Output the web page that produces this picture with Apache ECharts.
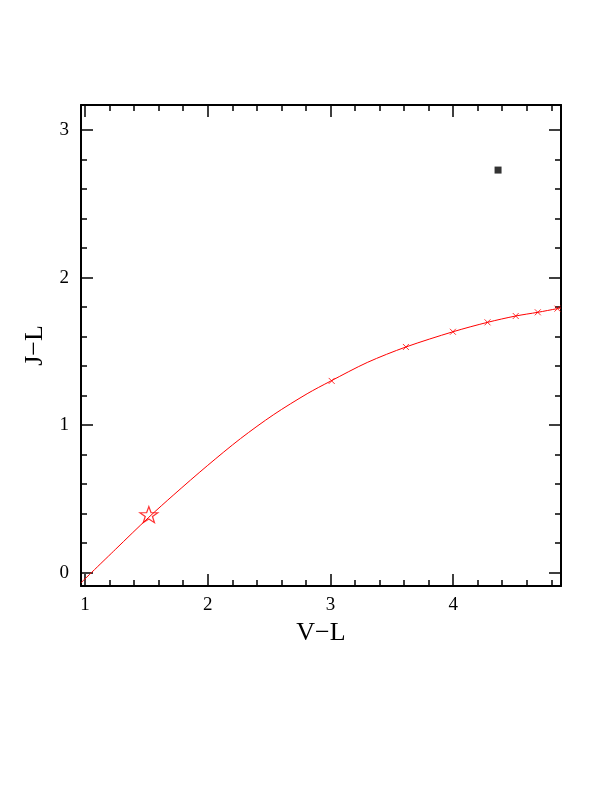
<!DOCTYPE html>
<html>
<head>
<meta charset="utf-8">
<script src="https://cdn.jsdelivr.net/npm/echarts@6/dist/echarts.min.js"></script>
<style>
html,body{margin:0;padding:0;background:#fff;}
#chart{width:612px;height:792px;}
</style>
</head>
<body>
<div id="chart"></div>
<script>
// ---- data ----
var curveX = [0.967, 1.25, 1.52, 1.724, 1.996, 2.267, 2.538, 2.81, 3.0, 3.3, 3.615, 3.998, 4.28, 4.51, 4.69, 4.85, 4.879];
var curveY = [-0.068, 0.16, 0.376, 0.529, 0.725, 0.909, 1.072, 1.213, 1.298, 1.425, 1.53, 1.633, 1.697, 1.74, 1.765, 1.79, 1.794];
var modelX = [3.01, 3.615, 3.998, 4.28, 4.51, 4.69, 4.85];
var modelY = [1.30, 1.53, 1.633, 1.697, 1.74, 1.765, 1.79];
var starX = [1.52];
var starY = [0.394];
var squareX = [4.366];
var squareY = [2.729];
var xMajor = [1, 2, 3, 4];
var xMinor = [1.2, 1.4, 1.6, 1.8, 2.2, 2.4, 2.6, 2.8, 3.2, 3.4, 3.6, 3.8, 4.2, 4.4, 4.6, 4.8];
var yMajor = [0, 1, 2, 3];
var yMinor = [0.2, 0.4, 0.6, 0.8, 1.2, 1.4, 1.6, 1.8, 2.2, 2.4, 2.6, 2.8];
var xLabels = ['1', '2', '3', '4'];
var yLabels = ['0', '1', '2', '3'];
var xTitle = 'V\u2212L';
var yTitle = 'J\u2212L';

var X_MIN = 0.967, X_MAX = 4.879, Y_MIN = -0.09, Y_MAX = 3.17;
var FONT = 'Liberation Serif';

function zip(a, b) { return a.map(function (v, i) { return [v, b[i]]; }); }

function makeAxis(kind, pos, ticks, len, withLabels, withLine) {
  var isX = kind === 'x';
  var ax = {
    type: 'value',
    position: pos,
    min: isX ? X_MIN : Y_MIN,
    max: isX ? X_MAX : Y_MAX,
    splitLine: { show: false },
    axisLine: { show: withLine, onZero: false, lineStyle: { color: '#000', width: 2 } },
    axisTick: { show: true, inside: true, length: len, customValues: ticks, lineStyle: { color: '#000', width: 1.5 } },
    axisLabel: { show: false }
  };
  if (withLabels) {
    var labs = isX ? xLabels : yLabels;
    var vals = isX ? xMajor : yMajor;
    ax.axisLabel = {
      show: true,
      customValues: vals,
      margin: isX ? 10 : 12,
      fontFamily: FONT,
      fontSize: 19,
      color: '#000',
      formatter: function (v) {
        var i = vals.indexOf(Math.round(v * 1000) / 1000);
        return i >= 0 ? labs[i] : '';
      }
    };
    ax.name = isX ? xTitle : yTitle;
    ax.nameLocation = 'middle';
    ax.nameGap = isX ? 34 : 32;
    ax.nameTextStyle = { fontFamily: FONT, fontSize: 26, color: '#000' };
  }
  return ax;
}

var starPath = 'path://M50 0 L61.76 33.82 L97.55 34.55 L69.02 56.18 L79.39 90.45 L50 70 L20.61 90.45 L30.98 56.18 L2.45 34.55 L38.24 33.82 Z';
var crossPath = 'path://M0 0 L10 10 M10 0 L0 10';

var chart = echarts.init(document.getElementById('chart'), null, { renderer: 'canvas' });
chart.setOption({
  backgroundColor: '#fff',
  animation: false,
  grid: { left: 81, top: 105, width: 480, height: 481, containLabel: false },
  xAxis: [
    makeAxis('x', 'bottom', xMajor, 12, true, true),
    makeAxis('x', 'bottom', xMinor, 6, false, false),
    makeAxis('x', 'top', xMajor, 12, false, true),
    makeAxis('x', 'top', xMinor, 6, false, false)
  ],
  yAxis: [
    makeAxis('y', 'left', yMajor, 12, true, true),
    makeAxis('y', 'left', yMinor, 6, false, false),
    makeAxis('y', 'right', yMajor, 12, false, true),
    makeAxis('y', 'right', yMinor, 6, false, false)
  ],
  series: [
    {
      type: 'line', xAxisIndex: 0, yAxisIndex: 0,
      data: zip(curveX, curveY), smooth: 0.3, showSymbol: false, symbol: 'none',
      lineStyle: { color: '#ff0000', width: 1 }, clip: true
    },
    {
      type: 'scatter', xAxisIndex: 0, yAxisIndex: 0,
      data: zip(modelX, modelY), symbol: crossPath, symbolSize: 6,
      itemStyle: { color: 'none', borderColor: '#ff0000', borderWidth: 1 }
    },
    {
      type: 'scatter', xAxisIndex: 0, yAxisIndex: 0,
      data: zip(starX, starY), symbol: starPath, symbolSize: [18, 16],
      itemStyle: { color: 'none', borderColor: '#ff0000', borderWidth: 1.2 }
    },
    {
      type: 'scatter', xAxisIndex: 0, yAxisIndex: 0,
      data: zip(squareX, squareY), symbol: 'rect', symbolSize: 7,
      itemStyle: { color: '#000' }
    }
  ]
});
</script>
</body>
</html>
